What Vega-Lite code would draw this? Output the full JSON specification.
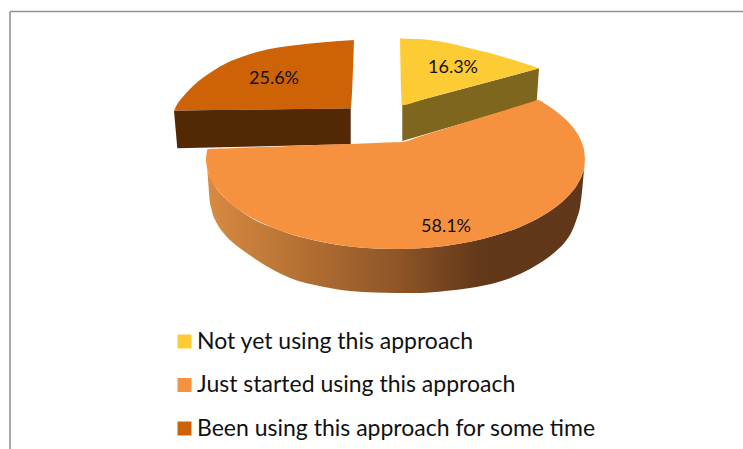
{
  "$schema": "https://vega.github.io/schema/vega-lite/v6.json",
  "width": 743,
  "height": 449,
  "padding": 0,
  "autosize": {"type": "none"},
  "background": "white",
  "config": {"view": {"stroke": null}, "font": "Lato"},
  "datasets": {
    "frame": [
      {"edge": "top", "x": 10, "x2": 743, "y": 11.5, "y2": 11.5},
      {"edge": "left", "x": 10, "x2": 10, "y": 11.5, "y2": 449}
    ],
    "brownWall": [
      {"x": 174, "y": 110.7, "y2": 110.7},
      {"x": 177.3, "y": 110.6, "y2": 148.3},
      {"x": 350.7, "y": 108.3, "y2": 144.3}
    ],
    "yellowWall": [
      {"x": 402.3, "y": 105, "y2": 141},
      {"x": 536.7, "y": 69, "y2": 101.7},
      {"x": 539, "y": 68.3, "y2": 68.3}
    ],
    "mainWall": [
      {"x": 206, "y": 159, "y2": 160},
      {"x": 207.3, "y": 169, "y2": 170},
      {"x": 208.3, "y": 173, "y2": 183},
      {"x": 209.3, "y": 175.5, "y2": 197},
      {"x": 211.7, "y": 180, "y2": 210},
      {"x": 216.7, "y": 188.8, "y2": 223},
      {"x": 223.3, "y": 196.5, "y2": 232.7},
      {"x": 233.3, "y": 205.5, "y2": 243},
      {"x": 246.7, "y": 215, "y2": 253},
      {"x": 256.7, "y": 221, "y2": 260},
      {"x": 273.3, "y": 227.8, "y2": 270},
      {"x": 290, "y": 234, "y2": 278},
      {"x": 306.7, "y": 238.5, "y2": 283.3},
      {"x": 323, "y": 242.2, "y2": 286.7},
      {"x": 350, "y": 246.4, "y2": 291},
      {"x": 375, "y": 248.5, "y2": 292.5},
      {"x": 395, "y": 249, "y2": 293},
      {"x": 420, "y": 248.2, "y2": 293},
      {"x": 445, "y": 245.9, "y2": 291},
      {"x": 470, "y": 241.8, "y2": 288},
      {"x": 495, "y": 235.6, "y2": 283},
      {"x": 520, "y": 226.9, "y2": 274},
      {"x": 540, "y": 217.2, "y2": 263},
      {"x": 555, "y": 207.6, "y2": 252},
      {"x": 565, "y": 199.2, "y2": 242},
      {"x": 572, "y": 191.8, "y2": 231},
      {"x": 577, "y": 184.9, "y2": 218},
      {"x": 580, "y": 179.5, "y2": 207},
      {"x": 582, "y": 174.9, "y2": 192},
      {"x": 584, "y": 168.2, "y2": 170},
      {"x": 585, "y": 159, "y2": 160}
    ],
    "topFaces": [
      {"answer": "Been using this approach for some time", "x": 174, "y": 110.7, "y2": 110.7},
      {"answer": "Been using this approach for some time", "x": 176.7, "y": 105, "y2": 110.6},
      {"answer": "Been using this approach for some time", "x": 181.7, "y": 98.3, "y2": 110.5},
      {"answer": "Been using this approach for some time", "x": 186.7, "y": 92.5, "y2": 110.3},
      {"answer": "Been using this approach for some time", "x": 193.3, "y": 85.7, "y2": 110.2},
      {"answer": "Been using this approach for some time", "x": 203.3, "y": 77.5, "y2": 110},
      {"answer": "Been using this approach for some time", "x": 213.3, "y": 70.7, "y2": 110},
      {"answer": "Been using this approach for some time", "x": 226.7, "y": 63, "y2": 110},
      {"answer": "Been using this approach for some time", "x": 243, "y": 56.5, "y2": 109.8},
      {"answer": "Been using this approach for some time", "x": 260, "y": 51.2, "y2": 109.6},
      {"answer": "Been using this approach for some time", "x": 293, "y": 45.5, "y2": 109.2},
      {"answer": "Been using this approach for some time", "x": 326.7, "y": 42, "y2": 108.7},
      {"answer": "Been using this approach for some time", "x": 350.7, "y": 40.3, "y2": 108.3},
      {"answer": "Been using this approach for some time", "x": 354, "y": 40, "y2": 40},
      {"answer": "Not yet using this approach", "x": 400, "y": 38.3, "y2": 38.3},
      {"answer": "Not yet using this approach", "x": 402, "y": 38.5, "y2": 105},
      {"answer": "Not yet using this approach", "x": 423, "y": 39.3, "y2": 99.4},
      {"answer": "Not yet using this approach", "x": 457, "y": 45, "y2": 90.3},
      {"answer": "Not yet using this approach", "x": 473, "y": 49, "y2": 86},
      {"answer": "Not yet using this approach", "x": 490, "y": 53, "y2": 81.4},
      {"answer": "Not yet using this approach", "x": 507, "y": 58, "y2": 76.9},
      {"answer": "Not yet using this approach", "x": 523, "y": 63, "y2": 72.6},
      {"answer": "Not yet using this approach", "x": 539, "y": 68.3, "y2": 68.3},
      {"answer": "Just started using this approach", "x": 206, "y": 159, "y2": 160},
      {"answer": "Just started using this approach", "x": 207, "y": 151, "y2": 168},
      {"answer": "Just started using this approach", "x": 208, "y": 149, "y2": 172},
      {"answer": "Just started using this approach", "x": 210, "y": 148.9, "y2": 177},
      {"answer": "Just started using this approach", "x": 213, "y": 148.8, "y2": 183},
      {"answer": "Just started using this approach", "x": 217, "y": 148.7, "y2": 189},
      {"answer": "Just started using this approach", "x": 222, "y": 148.5, "y2": 195},
      {"answer": "Just started using this approach", "x": 230, "y": 148.2, "y2": 203},
      {"answer": "Just started using this approach", "x": 240, "y": 147.8, "y2": 210.4},
      {"answer": "Just started using this approach", "x": 255, "y": 147.3, "y2": 219.4},
      {"answer": "Just started using this approach", "x": 270, "y": 146.8, "y2": 226.4},
      {"answer": "Just started using this approach", "x": 290, "y": 146, "y2": 233.8},
      {"answer": "Just started using this approach", "x": 310, "y": 145.3, "y2": 239.3},
      {"answer": "Just started using this approach", "x": 330, "y": 144.6, "y2": 243.5},
      {"answer": "Just started using this approach", "x": 350, "y": 143.9, "y2": 246.4},
      {"answer": "Just started using this approach", "x": 375, "y": 143, "y2": 248.5},
      {"answer": "Just started using this approach", "x": 395, "y": 142.3, "y2": 249},
      {"answer": "Just started using this approach", "x": 402, "y": 142, "y2": 249},
      {"answer": "Just started using this approach", "x": 420, "y": 136.4, "y2": 248.2},
      {"answer": "Just started using this approach", "x": 445, "y": 128.7, "y2": 245.9},
      {"answer": "Just started using this approach", "x": 470, "y": 121, "y2": 241.8},
      {"answer": "Just started using this approach", "x": 495, "y": 113.3, "y2": 235.6},
      {"answer": "Just started using this approach", "x": 520, "y": 105.6, "y2": 226.9},
      {"answer": "Just started using this approach", "x": 533, "y": 101.5, "y2": 221},
      {"answer": "Just started using this approach", "x": 538, "y": 100, "y2": 218.3},
      {"answer": "Just started using this approach", "x": 545, "y": 103.7, "y2": 214.3},
      {"answer": "Just started using this approach", "x": 555, "y": 110.4, "y2": 207.6},
      {"answer": "Just started using this approach", "x": 565, "y": 118.8, "y2": 199.2},
      {"answer": "Just started using this approach", "x": 572, "y": 126.2, "y2": 191.8},
      {"answer": "Just started using this approach", "x": 577, "y": 133, "y2": 184.9},
      {"answer": "Just started using this approach", "x": 580, "y": 138.5, "y2": 179.5},
      {"answer": "Just started using this approach", "x": 582, "y": 143, "y2": 174.9},
      {"answer": "Just started using this approach", "x": 584, "y": 149.8, "y2": 168.2},
      {"answer": "Just started using this approach", "x": 585, "y": 159, "y2": 159}
    ],
    "shares": [
      {"answer": "Not yet using this approach", "share": 0.163, "x": 453, "y": 67.5},
      {"answer": "Just started using this approach", "share": 0.581, "x": 446, "y": 227},
      {"answer": "Been using this approach for some time", "share": 0.256, "x": 274, "y": 79}
    ]
  },
  "resolve": {"scale": {"color": "independent"}},
  "layer": [
    {
      "data": {"name": "frame"},
      "mark": {"type": "rule", "color": "#939393", "strokeWidth": 1.6},
      "encoding": {
        "x": {"field": "x", "type": "quantitative", "scale": {"domain": [0, 743], "nice": false, "zero": false}, "axis": null},
        "x2": {"field": "x2"},
        "y": {"field": "y", "type": "quantitative", "scale": {"domain": [449, 0], "nice": false, "zero": false}, "axis": null},
        "y2": {"field": "y2"}
      }
    },
    {
      "data": {"name": "brownWall"},
      "mark": {"type": "area", "fill": "#532805", "orient": "vertical"},
      "encoding": {
        "x": {"field": "x", "type": "quantitative", "axis": null},
        "y": {"field": "y", "type": "quantitative", "axis": null},
        "y2": {"field": "y2"}
      }
    },
    {
      "data": {"name": "yellowWall"},
      "mark": {"type": "area", "fill": "#7f661f", "orient": "vertical"},
      "encoding": {
        "x": {"field": "x", "type": "quantitative", "axis": null},
        "y": {"field": "y", "type": "quantitative", "axis": null},
        "y2": {"field": "y2"}
      }
    },
    {
      "data": {"name": "mainWall"},
      "mark": {
        "type": "area",
        "orient": "vertical",
        "interpolate": "monotone",
        "fill": {
          "gradient": "linear",
          "x1": 0, "y1": 0, "x2": 1, "y2": 0,
          "stops": [
            {"offset": 0, "color": "#d88b42"},
            {"offset": 0.3, "color": "#ad6b31"},
            {"offset": 0.5, "color": "#8f5628"},
            {"offset": 0.72, "color": "#633819"},
            {"offset": 1, "color": "#60371a"}
          ]
        }
      },
      "encoding": {
        "x": {"field": "x", "type": "quantitative", "axis": null},
        "y": {"field": "y", "type": "quantitative", "axis": null},
        "y2": {"field": "y2"}
      }
    },
    {
      "data": {"name": "topFaces"},
      "mark": {"type": "area", "orient": "vertical", "interpolate": "monotone", "opacity": 1},
      "encoding": {
        "x": {"field": "x", "type": "quantitative", "axis": null},
        "y": {"field": "y", "type": "quantitative", "axis": null},
        "y2": {"field": "y2"},
        "color": {
          "field": "answer",
          "type": "nominal",
          "scale": {
            "domain": ["Not yet using this approach", "Just started using this approach", "Been using this approach for some time"],
            "range": ["#fdcb33", "#f69140", "#ce6206"]
          },
          "legend": {
            "title": null,
            "orient": "none",
            "legendX": 173,
            "legendY": 330,
            "symbolType": "square",
            "symbolSize": 196,
            "symbolStrokeWidth": 0,
            "labelFont": "Lato",
            "labelFontSize": 23,
            "labelColor": "#111111",
            "labelLimit": 500,
            "labelOffset": 1,
            "rowPadding": 19.5,
            "padding": 0
          }
        }
      }
    },
    {
      "data": {"name": "shares"},
      "mark": {"type": "text", "font": "Lato", "fontSize": 18, "color": "#111111", "align": "center", "baseline": "middle"},
      "encoding": {
        "x": {"field": "x", "type": "quantitative", "axis": null},
        "y": {"field": "y", "type": "quantitative", "axis": null},
        "text": {"field": "share", "type": "quantitative", "format": ".1%"}
      }
    }
  ]
}
